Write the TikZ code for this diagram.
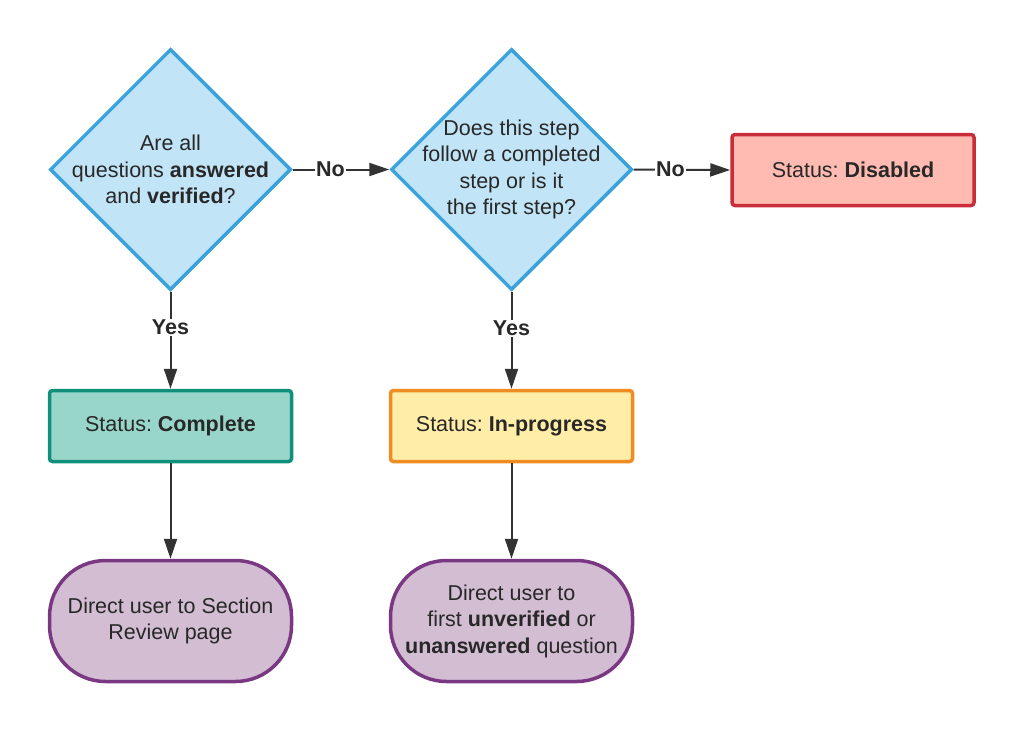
\documentclass[tikz,border=0pt]{standalone}
\usepackage{fontspec}
\setmainfont{Liberation Sans}
\usetikzlibrary{shapes.geometric,arrows.meta}
\frenchspacing
\definecolor{txtc}{HTML}{282828}
\definecolor{linec}{HTML}{333333}
\definecolor{diafill}{HTML}{C1E4F7}
\definecolor{diadraw}{HTML}{3AA3DB}
\definecolor{redfill}{HTML}{FFBBB1}
\definecolor{reddraw}{HTML}{C92D39}
\definecolor{grnfill}{HTML}{99D6CA}
\definecolor{grndraw}{HTML}{10907B}
\definecolor{yelfill}{HTML}{FFEDA8}
\definecolor{yeldraw}{HTML}{EF8D22}
\definecolor{purfill}{HTML}{D2BDD3}
\definecolor{purdraw}{HTML}{7A3883}
\tikzset{
  txt/.style={text=txtc, font=\fontsize{21.5}{26.5}\selectfont\frenchspacing, align=center, inner sep=0pt},
  dia/.style={diamond, draw=diadraw, fill=diafill, line width=3.5pt, minimum width=241pt, minimum height=241pt, inner sep=0pt, aspect=1},
  statbox/.style={rectangle, rounded corners=3pt, line width=3.5pt, minimum width=242pt, minimum height=71pt, txt},
  term/.style={rectangle, rounded corners=56pt, draw=purdraw, fill=purfill, line width=3.5pt, minimum width=242pt, minimum height=121pt, txt},
  conn/.style={draw=linec, line width=2pt, -{Triangle[length=20pt,width=13pt]}},
  lab/.style={fill=white, text=txtc, font=\fontsize{21.5}{24}\selectfont\bfseries, inner sep=1pt}
}
\begin{document}
\begin{tikzpicture}[x=1pt,y=-1pt]
\useasboundingbox (0,0) rectangle (1024,731);
\node[dia, label={[txt]center:Are all\\questions \textbf{answered}\\and \textbf{verified}?}] (d1) at (170.5,169.5) {};
\node[dia, label={[txt]center:Does this step\\follow a completed\\step or is it\\the first step?}] (d2) at (511.5,169.5) {};
\node[statbox, draw=reddraw, fill=redfill] (dis) at (853,170) {Status: \textbf{Disabled}};
\node[statbox, draw=grndraw, fill=grnfill] (comp) at (170.5,426) {Status: \textbf{Complete}};
\node[statbox, draw=yeldraw, fill=yelfill] (prog) at (511.5,426) {Status: \textbf{In-progress}};
\node[term] (t1) at (170.5,621) {Direct user to Section\\Review page};
\node[term] (t2) at (511.5,621) {Direct user to\\first \textbf{unverified} or\\\textbf{unanswered} question};
\draw[conn] (d1.east) -- node[lab, pos=0.39] {No} (d2.west);
\draw[conn] (d2.east) -- node[lab, pos=0.38] {No} (dis.west);
\draw[conn] (d1.south) -- node[lab, pos=0.37] {Yes} (comp.north);
\draw[conn] (d2.south) -- node[lab, pos=0.38] {Yes} (prog.north);
\draw[conn] (comp.south) -- (t1.north);
\draw[conn] (prog.south) -- (t2.north);
\end{tikzpicture}
\end{document}
